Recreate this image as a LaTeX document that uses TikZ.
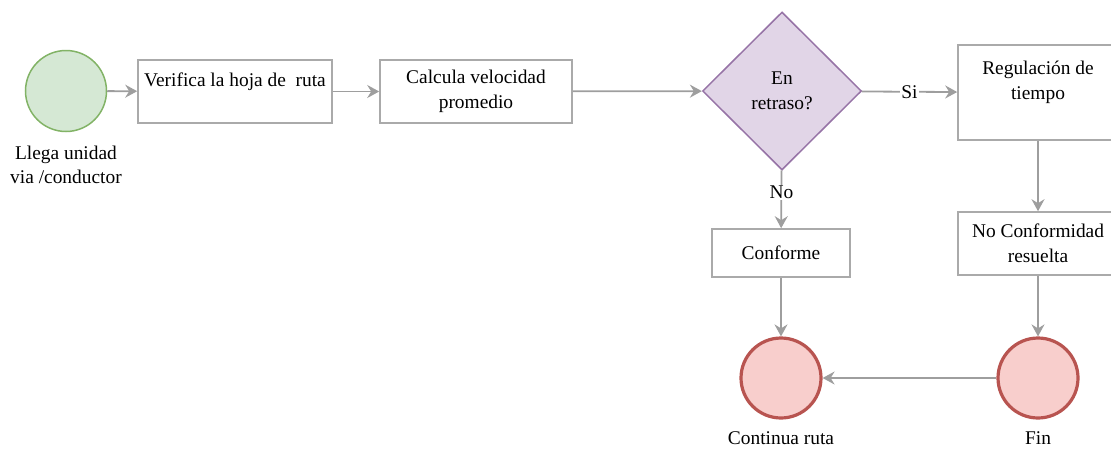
\documentclass[tikz,border=0pt]{standalone}
\usepackage{fontspec}
\setmainfont{Liberation Serif}
\usetikzlibrary{shapes.geometric,arrows.meta,positioning}

\definecolor{linegray}{RGB}{158,158,158}
\definecolor{boxgray}{RGB}{170,170,170}
\definecolor{startfill}{RGB}{213,232,212}
\definecolor{startline}{RGB}{130,179,102}
\definecolor{askfill}{RGB}{225,213,231}
\definecolor{askline}{RGB}{150,115,166}
\definecolor{endfill}{RGB}{248,206,204}
\definecolor{endline}{RGB}{184,84,80}

\tikzset{
	txt/.style={font=\fontsize{19.4}{24.5}\selectfont, align=center},
	task/.style={txt, draw=boxgray, line width=1.6pt, inner sep=0pt},
	ask/.style={txt, diamond, draw=askline, fill=askfill, line width=1.5pt, inner sep=0pt, minimum width=159pt, minimum height=158pt},
	startev/.style={circle, draw=startline, fill=startfill, line width=1.5pt, minimum size=81pt, inner sep=0pt},
	endev/.style={circle, draw=endline, fill=endfill, line width=3.2pt, minimum size=80pt, inner sep=0pt},
	flow/.style={draw=linegray, line width=1.8pt, arrows={-{Stealth[length=12pt,width=13pt,inset=4pt]}}},
	tag/.style={txt, fill=white, inner sep=1pt}
}

\begin{document}
\begin{tikzpicture}[x=1pt, y=-1pt]
	\useasboundingbox (0,0) rectangle (1111,451);
	\node [startev] (llega) at (66,91) {};
	\node [txt, below=10pt of llega] (llegaTxt) {Llega unidad\\via /conductor};
	\node [task, minimum width=194pt, minimum height=63pt] (verifica) at (235,91.5) {Verifica la hoja de\ \ ruta\\\mbox{}};
	\node [task, minimum width=192pt, minimum height=63pt] (calcula) at (476,91.5) {Calcula velocidad\\promedio};
	\node [ask] (retraso) at (782,91) {En\\retraso?};
	\node [task, minimum width=160pt, minimum height=95pt] (regula) at (1038,92.5) {Regulación de\\tiempo\\\mbox{}};
	\node [task, minimum width=160pt, minimum height=63pt] (noconf) at (1038,243.5) {No Conformidad\\resuelta};
	\node [task, minimum width=138pt, minimum height=48pt] (conforme) at (781,253) {Conforme};
	\node [endev] (continua) at (781,378) {};
	\node [txt, below=9pt of continua] (continuaTxt) {Continua ruta};
	\node [endev] (fin) at (1038,378) {};
	\node [txt, below=9pt of fin] (finTxt) {Fin};

	% flujo
	\draw [flow] (llega) -- (verifica);
	\draw [flow] (verifica) -- (calcula);
	\draw [flow] (calcula) -- (retraso);
	\draw [flow] (retraso) -- node [tag, pos=0.5] (si) {Si} (regula);
	\draw [flow] (retraso) -- node [tag, pos=0.38] (no) {No} (conforme);
	\draw [flow] (regula) -- (noconf);
	\draw [flow] (noconf) -- (fin);
	\draw [flow] (conforme) -- (continua);
	\draw [flow] (fin) -- (continua);
\end{tikzpicture}
\end{document}
